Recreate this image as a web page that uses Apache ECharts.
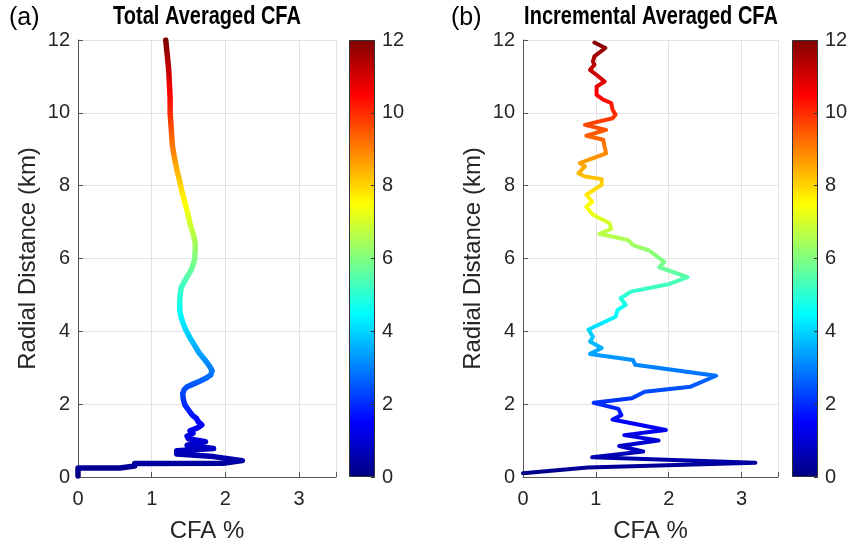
<!DOCTYPE html>
<html>
<head>
<meta charset="utf-8">
<script src="https://cdn.jsdelivr.net/npm/echarts@6/dist/echarts.min.js"></script>
<style>html,body{margin:0;padding:0;background:#fff}#c{width:852px;height:548px}</style>
</head>
<body>
<div id="c"></div>
<script>
// ---- data ----
const leftCFA  = [0,0,0.57,0.57,0.77,0.77,1.97,2.23,1.84,1.34,1.34,1.84,1.48,1.73,1.50,1.48,1.56,1.52,1.62,1.68,1.63,1.61,1.55,1.50,1.45,1.43,1.42,1.44,1.48,1.56,1.65,1.74,1.80,1.82,1.78,1.72,1.64,1.58,1.52,1.46,1.43,1.40,1.38,1.38,1.385,1.40,1.44,1.48,1.54,1.58,1.59,1.59,1.56,1.52,1.50,1.455,1.41,1.37,1.34,1.31,1.28,1.27,1.26,1.25,1.25,1.24,1.23,1.21,1.19];
const leftDist = [0.03,0.25,0.25,0.30,0.30,0.37,0.38,0.45,0.56,0.63,0.72,0.78,0.87,0.97,1.05,1.12,1.20,1.27,1.35,1.43,1.52,1.60,1.70,1.84,1.98,2.12,2.28,2.40,2.48,2.55,2.63,2.72,2.80,2.92,3.06,3.22,3.42,3.62,3.82,4.05,4.20,4.38,4.58,4.80,5.00,5.20,5.35,5.50,5.70,5.95,6.20,6.45,6.70,6.95,7.15,7.50,7.85,8.20,8.45,8.75,9.10,9.40,9.70,10.00,10.40,10.80,11.20,11.60,12.00];

const rightCFA  = [0,0.89,3.19,0.95,1.65,1.32,1.86,1.39,1.96,1.23,1.35,1.31,0.97,1.49,1.67,2.30,2.65,1.54,1.51,0.92,1.08,0.92,0.96,0.90,1.27,1.30,1.41,1.34,1.48,2.01,2.26,1.87,1.94,1.73,1.51,1.44,1.05,1.21,1.19,0.96,0.87,0.95,0.87,1.08,1.08,0.85,0.76,0.85,0.78,1.14,1.10,0.87,1.14,0.85,1.23,1.27,1.23,1.21,1.10,1.01,1.01,1.12,1.01,0.92,0.98,0.96,0.98,1.13,0.98];
const rightDist = [0.10,0.26,0.39,0.54,0.70,0.85,1.00,1.15,1.29,1.58,1.70,1.87,2.04,2.16,2.34,2.48,2.78,3.08,3.21,3.38,3.54,3.72,3.85,4.05,4.40,4.59,4.73,4.91,5.09,5.30,5.49,5.76,5.91,6.22,6.37,6.51,6.68,6.81,6.97,7.20,7.42,7.56,7.75,8.02,8.18,8.25,8.34,8.53,8.62,8.89,9.26,9.37,9.53,9.67,9.85,9.95,10.08,10.27,10.36,10.49,10.72,10.86,11.04,11.18,11.32,11.41,11.55,11.78,11.93];

const colorbarMax = [12];
const titles = ['Total Averaged CFA', 'Incremental Averaged CFA'];
const panelTags = ['(a)', '(b)'];
const xName = 'CFA %';
const yName = 'Radial Distance (km)';

// ---- style ----
const jet = ['#000080','#0000ff','#0080ff','#00ffff','#80ff80','#ffff00','#ff8000','#ff0000','#800000'];
const FONT = 'Liberation Sans, Arial, sans-serif';
const TXT = '#262626';

const chart = echarts.init(document.getElementById('c'));

function pair(xs, ys){ return xs.map((v,i)=>[v, ys[i]]); }

const plotGrids = [
  {left:78, top:40, width:258, height:437},
  {left:523, top:40, width:255, height:437}
];
const cbGrids = [
  {left:349, top:40, width:26, height:437},
  {left:792, top:40, width:26, height:437}
];

const xAxes = [], yAxes = [], series = [];
plotGrids.forEach((g,i)=>{
  xAxes.push({
    gridIndex:i, type:'value', min:0, max:3.5, interval:1,
    name:xName, nameLocation:'middle', nameGap:42,
    nameTextStyle:{fontFamily:FONT, fontSize:24, color:TXT},
    axisLine:{show:true, lineStyle:{color:'#555', width:1}},
    axisTick:{show:true, inside:true, length:5, lineStyle:{color:'#555'}},
    axisLabel:{fontFamily:FONT, fontSize:20, color:TXT, margin:12,
      formatter:v=> (Math.abs(v-Math.round(v))<1e-6 ? String(Math.round(v)) : '')},
    splitLine:{show:true, lineStyle:{color:'#e3e3e3', width:1}}
  });
  yAxes.push({
    gridIndex:i, type:'value', min:0, max:12, interval:2,
    name:yName, nameLocation:'middle', nameGap:38, nameRotate:90,
    nameTextStyle:{fontFamily:FONT, fontSize:24, color:TXT},
    axisLine:{show:true, lineStyle:{color:'#555', width:1}},
    axisTick:{show:true, inside:true, length:5, lineStyle:{color:'#555'}},
    axisLabel:{fontFamily:FONT, fontSize:20, color:TXT, margin:8},
    splitLine:{show:true, lineStyle:{color:'#e3e3e3', width:1}}
  });
});
cbGrids.forEach((g,i)=>{
  xAxes.push({gridIndex:2+i, type:'category', data:['c'], show:false});
  yAxes.push({
    gridIndex:2+i, type:'value', min:0, max:12, interval:2, position:'right', z:5,
    axisLine:{show:false},
    axisTick:{show:true, inside:true, length:4, lineStyle:{color:'#333'}},
    axisLabel:{fontFamily:FONT, fontSize:20, color:TXT, margin:7},
    splitLine:{show:false}
  });
});

series.push({
  type:'line', xAxisIndex:0, yAxisIndex:0, data:pair(leftCFA,leftDist),
  showSymbol:false, lineStyle:{width:5.5, join:'round', cap:'round'}, animation:false
});
series.push({
  type:'line', xAxisIndex:1, yAxisIndex:1, data:pair(rightCFA,rightDist),
  showSymbol:false, lineStyle:{width:4, join:'round', cap:'round'}, animation:false
});
const grad = new echarts.graphic.LinearGradient(0,1,0,0, jet.map((c,k)=>({offset:k/(jet.length-1), color:c})));
[0,1].forEach(i=>{
  series.push({
    type:'bar', xAxisIndex:2+i, yAxisIndex:2+i, data:colorbarMax, barWidth:'100%', z:1,
    itemStyle:{color:grad, borderColor:'#333', borderWidth:1}, animation:false, silent:true
  });
});

const graphic = [];
const centers = [207, 651];
centers.forEach((cx,i)=>{
  graphic.push({type:'text', x:cx, y:17, scaleX:0.8, style:{text:titles[i], fontFamily:FONT, fontWeight:'bold', fontSize:25, fill:'#000', textAlign:'center', textVerticalAlign:'middle'}});
});
graphic.push({type:'text', left:9, top:6, style:{text:panelTags[0], fontFamily:FONT, fontSize:25, fill:'#000'}});
graphic.push({type:'text', left:451, top:6, style:{text:panelTags[1], fontFamily:FONT, fontSize:25, fill:'#000'}});

chart.setOption({
  animation:false,
  grid: plotGrids.concat(cbGrids),
  xAxis: xAxes, yAxis: yAxes,
  visualMap:{type:'continuous', show:false, seriesIndex:[0,1], dimension:1, min:0, max:12, inRange:{color:jet}},
  series: series,
  graphic: graphic
});
</script>
</body>
</html>
